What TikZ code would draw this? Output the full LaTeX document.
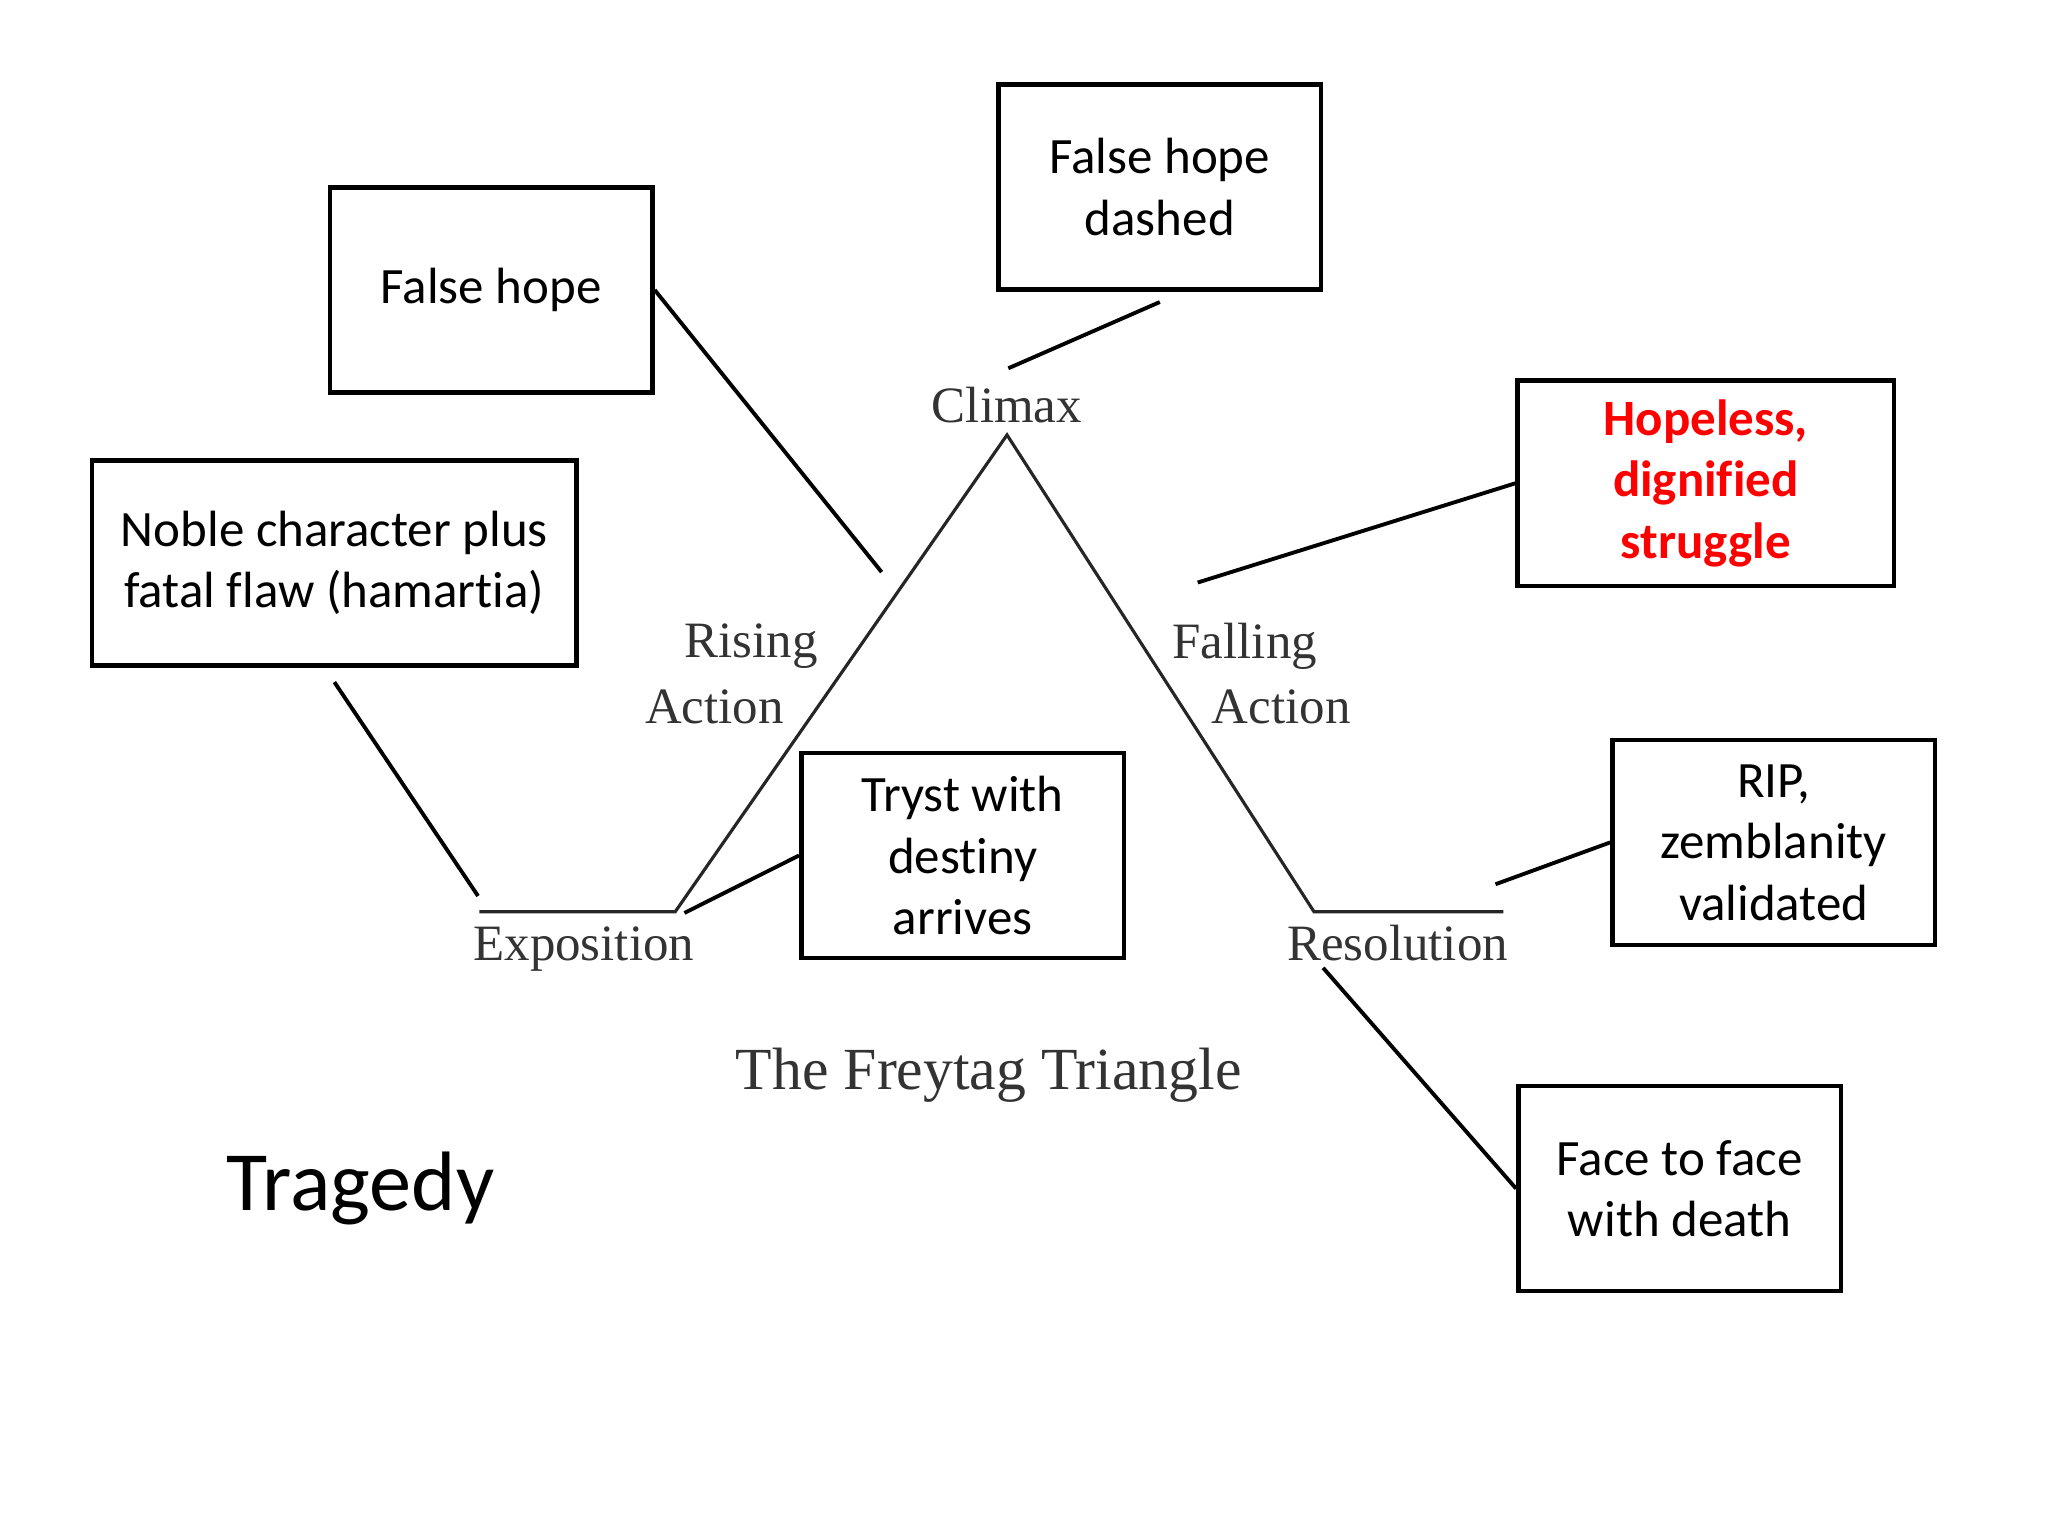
\documentclass[tikz,border=0pt]{standalone}
\usepackage{fontspec}
\setmainfont{Liberation Serif}
\newfontfamily\boxfont{Carlito}[Ligatures=NoCommon]
\usetikzlibrary{positioning}
\def\pu{0.01306cm}
\begin{document}
\begin{tikzpicture}[x=\pu,y=-\pu,
  box/.style={draw,line width=1.3pt,align=center,font=\boxfont\fontsize{14.5}{17.5}\selectfont,minimum width=247*\pu,minimum height=157*\pu},
  lbl/.style={font=\fontsize{14.5}{17}\selectfont,text=black!80,align=center},
  link/.style={line width=1.1pt}]
\useasboundingbox (0,0) rectangle (1568,1176);
% boxes
\node[box] (fh) at (376,222) {False hope};
\node[box] (fhd) at (888,143) {False hope\\dashed};
\node[box,minimum width=371*\pu] (noble) at (256,431) {Noble character plus\\fatal flaw (hamartia)};
\node[box,minimum width=288*\pu,text=red,font=\boxfont\bfseries\fontsize{14.5}{17.5}\selectfont] (hope) at (1306,370) {Hopeless,\\dignified\\struggle};
\node[box] (tryst) at (737,655) {Tryst with\\destiny\\arrives};
\node[box] (rip) at (1358,645) {RIP,\\zemblanity\\validated};
\node[box] (face) at (1286,910) {Face to face\\with death};
% triangle
\coordinate (e0) at (367,698);
\coordinate (e1) at (517,698);
\coordinate (top) at (771,333);
\coordinate (r0) at (1006,698);
\coordinate (r1) at (1151,698);
\draw[line width=0.9pt,black!85] (e0) -- (e1) -- (top) -- (r0) -- (r1);
\node[lbl] (climax) at (771,310) {Climax};
\node[lbl] (rise1) at (575,495) {Rising};
\node[lbl] (rise2) at (547,541) {Action};
\node[lbl] (fall1) at (953,495) {Falling};
\node[lbl] (fall2) at (981,541) {Action};
\node[lbl] (expo) at (447,727) {Exposition};
\node[lbl] (reso) at (1070,722) {Resolution};
\node[lbl,font=\fontsize{17}{20}\selectfont] (title) at (757,823) {The Freytag Triangle};
\node[font=\boxfont\fontsize{24}{28}\selectfont] (trag) at (276,910) {Tragedy};
% connectors
\coordinate (c1) at (675,438);
\coordinate (c2) at (772,282);
\coordinate (c3) at (366,686);
\coordinate (c4) at (917,446);
\coordinate (c5) at (524,699);
\coordinate (c6) at (1145,677);
\coordinate (c7) at (1013,741);
\draw[link] (fh.east) -- (c1);
\draw[link] ([yshift=-8*\pu]fhd.south) -- (c2);
\draw[link] ([yshift=-11*\pu]noble.south) -- (c3);
\draw[link] (hope.west) -- (c4);
\draw[link] (tryst.west) -- (c5);
\draw[link] (rip.west) -- (c6);
\draw[link] (face.west) -- (c7);
\end{tikzpicture}
\end{document}
